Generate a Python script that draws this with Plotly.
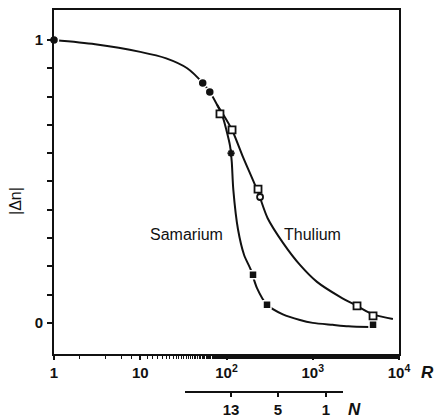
import plotly.graph_objects as go
import numpy as np

# ---- data ----
# Samarium smooth curve
sm_curve_R = [1, 3, 10, 20, 35, 53, 64, 78, 90, 100, 110, 115, 120, 136, 160, 190, 225, 295, 450, 711, 1000, 1700, 2600, 4600]
sm_curve_y = [1.0, 0.985, 0.958, 0.935, 0.9, 0.848, 0.816, 0.77, 0.73, 0.68, 0.625, 0.57, 0.47, 0.33, 0.24, 0.19, 0.124, 0.064, 0.03, 0.01, 0.0, -0.007, -0.012, -0.015]
# Thulium smooth curve (branches off the common curve)
tm_curve_R = [78, 88, 116, 155, 232, 300, 452, 711, 1120, 2070, 3260, 5000, 8500]
tm_curve_y = [0.77, 0.745, 0.682, 0.587, 0.462, 0.37, 0.283, 0.205, 0.145, 0.092, 0.06, 0.03, 0.014]

# Samarium measured points
sm_circ_R = [1, 53, 64]
sm_circ_y = [1.0, 0.848, 0.816]
sm_star_R = [113]
sm_star_y = [0.6]
sm_sq_R = [203, 295, 5000]
sm_sq_y = [0.17, 0.064, -0.007]

# Thulium measured points
tm_sq_R = [84, 116, 232, 3260, 5000]
tm_sq_y = [0.739, 0.682, 0.473, 0.06, 0.025]
tm_circ_R = [245]
tm_circ_y = [0.445]

# axes
x_tick_vals = [1, 10, 100, 1000, 10000]
x_tick_text = ["<b>1</b>", "<b>10</b>", "<b>10<sup>2</sup></b>", "<b>10<sup>3</sup></b>", "<b>10<sup>4</sup></b>"]
y_tick_vals = [round(0.1 * i, 1) for i in range(11)]
y_tick_text = ["<b>0</b>"] + [""] * 9 + ["<b>1</b>"]
n_tick_labels = ["<b>13</b>", "<b>5</b>", "<b>1</b>"]
n_tick_R = [113, 395, 1425]

# ---- figure ----
FONT = "Liberation Sans, Arial, Helvetica, sans-serif"
BLACK = "#111111"

fig = go.Figure()

fig.add_trace(go.Scatter(x=sm_curve_R, y=sm_curve_y, mode="lines",
                         line=dict(color=BLACK, width=2, shape="spline", smoothing=0.8),
                         hoverinfo="skip", showlegend=False))
fig.add_trace(go.Scatter(x=tm_curve_R, y=tm_curve_y, mode="lines",
                         line=dict(color=BLACK, width=2, shape="spline", smoothing=0.8),
                         hoverinfo="skip", showlegend=False))

fig.add_trace(go.Scatter(x=sm_circ_R, y=sm_circ_y, mode="markers",
                         marker=dict(symbol="circle", size=9, color=BLACK,
                                     line=dict(color="white", width=1.5)),
                         cliponaxis=False, showlegend=False))
fig.add_trace(go.Scatter(x=sm_star_R, y=sm_star_y, mode="markers",
                         marker=dict(symbol="asterisk", size=6, color=BLACK,
                                     line=dict(color=BLACK, width=2)),
                         showlegend=False))
fig.add_trace(go.Scatter(x=sm_sq_R, y=sm_sq_y, mode="markers",
                         marker=dict(symbol="square", size=8, color=BLACK,
                                     line=dict(color="white", width=1.5)),
                         showlegend=False))
fig.add_trace(go.Scatter(x=tm_sq_R, y=tm_sq_y, mode="markers",
                         marker=dict(symbol="square", size=7, color="white",
                                     line=dict(color=BLACK, width=1.8)),
                         showlegend=False))
fig.add_trace(go.Scatter(x=tm_circ_R, y=tm_circ_y, mode="markers",
                         marker=dict(symbol="circle", size=6, color="white",
                                     line=dict(color=BLACK, width=1.8)),
                         showlegend=False))

# geometry
W, H = 438, 419
ml, mr, mt, mb = 54, 39, 10, 20
plot_bottom_px = 354
n_axis_px = 392
paper_h = H - mt - mb
paper_w = W - ml - mr
y_dom0 = (H - mb - plot_bottom_px) / paper_h
n_pos = (H - mb - n_axis_px) / paper_h

x_log_range = [0, 4]
n_x0_px, n_x1_px = 185, 343
d0 = (n_x0_px - ml) / paper_w
d1 = (n_x1_px - ml) / paper_w
n_range = [x_log_range[0] + d0 * (x_log_range[1] - x_log_range[0]),
           x_log_range[0] + d1 * (x_log_range[1] - x_log_range[0])]

# dummy trace to register the N axis (own hidden y axis)
fig.add_trace(go.Scatter(x=[], y=[], xaxis="x2", yaxis="y2", showlegend=False, hoverinfo="skip"))

tickfont = dict(family=FONT, size=15, color=BLACK)

fig.update_layout(
    width=W, height=H,
    margin=dict(l=ml, r=mr, t=mt, b=mb, autoexpand=False),
    paper_bgcolor="white", plot_bgcolor="rgba(0,0,0,0)",
    font=dict(family=FONT, color=BLACK),
    xaxis=dict(type="log", range=x_log_range, domain=[0, 1],
               tickvals=x_tick_vals, ticktext=x_tick_text,
               ticks="outside", ticklen=4, tickwidth=1.5, tickcolor=BLACK,
               minor=dict(ticks="outside", ticklen=3, tickwidth=1, tickcolor=BLACK, showgrid=False),
               showline=True, linecolor=BLACK, linewidth=2, mirror=True,
               showgrid=False, zeroline=False, tickfont=tickfont,
               ticklabelstandoff=0, automargin=False, anchor="y"),
    yaxis=dict(range=[-0.11, 1.106], domain=[y_dom0, 1],
               tickvals=y_tick_vals, ticktext=y_tick_text,
               ticks="outside", ticklen=5, tickwidth=1.5, tickcolor=BLACK,
               showline=True, linecolor=BLACK, linewidth=2, mirror=True,
               showgrid=False, zeroline=False, tickfont=tickfont,
               ticklabelstandoff=1, automargin=False, anchor="x"),
    xaxis2=dict(type="log", range=n_range, domain=[d0, d1],
                anchor="free", position=n_pos, side="bottom",
                tickvals=n_tick_R, ticktext=n_tick_labels,
                ticks="outside", ticklen=4, tickwidth=1.5, tickcolor=BLACK,
                showline=True, linecolor=BLACK, linewidth=2,
                showgrid=False, zeroline=False, tickfont=tickfont,
                ticklabelstandoff=0, automargin=False),
    yaxis2=dict(domain=[0, 0.01], anchor="x2", visible=False,
                showgrid=False, zeroline=False, automargin=False),
    annotations=[
        dict(text="Samarium", x=np.log10(34), y=0.314, xref="x", yref="y",
             xanchor="center", yanchor="middle",
             showarrow=False, font=dict(family=FONT, size=16, color=BLACK)),
        dict(text="Thulium", x=np.log10(1000), y=0.314, xref="x", yref="y",
             xanchor="center", yanchor="middle",
             showarrow=False, font=dict(family=FONT, size=16, color=BLACK)),
        dict(text="|Δn|", x=(15 - ml) / paper_w, y=(H - mb - 201) / paper_h,
             xref="paper", yref="paper", textangle=-90, showarrow=False,
             xanchor="center", yanchor="middle",
             font=dict(family=FONT, size=16, color=BLACK)),
        dict(text="<b><i>R</i></b>", x=(427 - ml) / paper_w, y=(H - mb - 372) / paper_h,
             xref="paper", yref="paper", showarrow=False,
             xanchor="center", yanchor="middle",
             font=dict(family=FONT, size=17, color=BLACK)),
        dict(text="<b><i>N</i></b>", x=(354 - ml) / paper_w, y=(H - mb - 409) / paper_h,
             xref="paper", yref="paper", showarrow=False,
             xanchor="center", yanchor="middle",
             font=dict(family=FONT, size=17, color=BLACK)),
    ],
)

fig.write_html("out.html")
